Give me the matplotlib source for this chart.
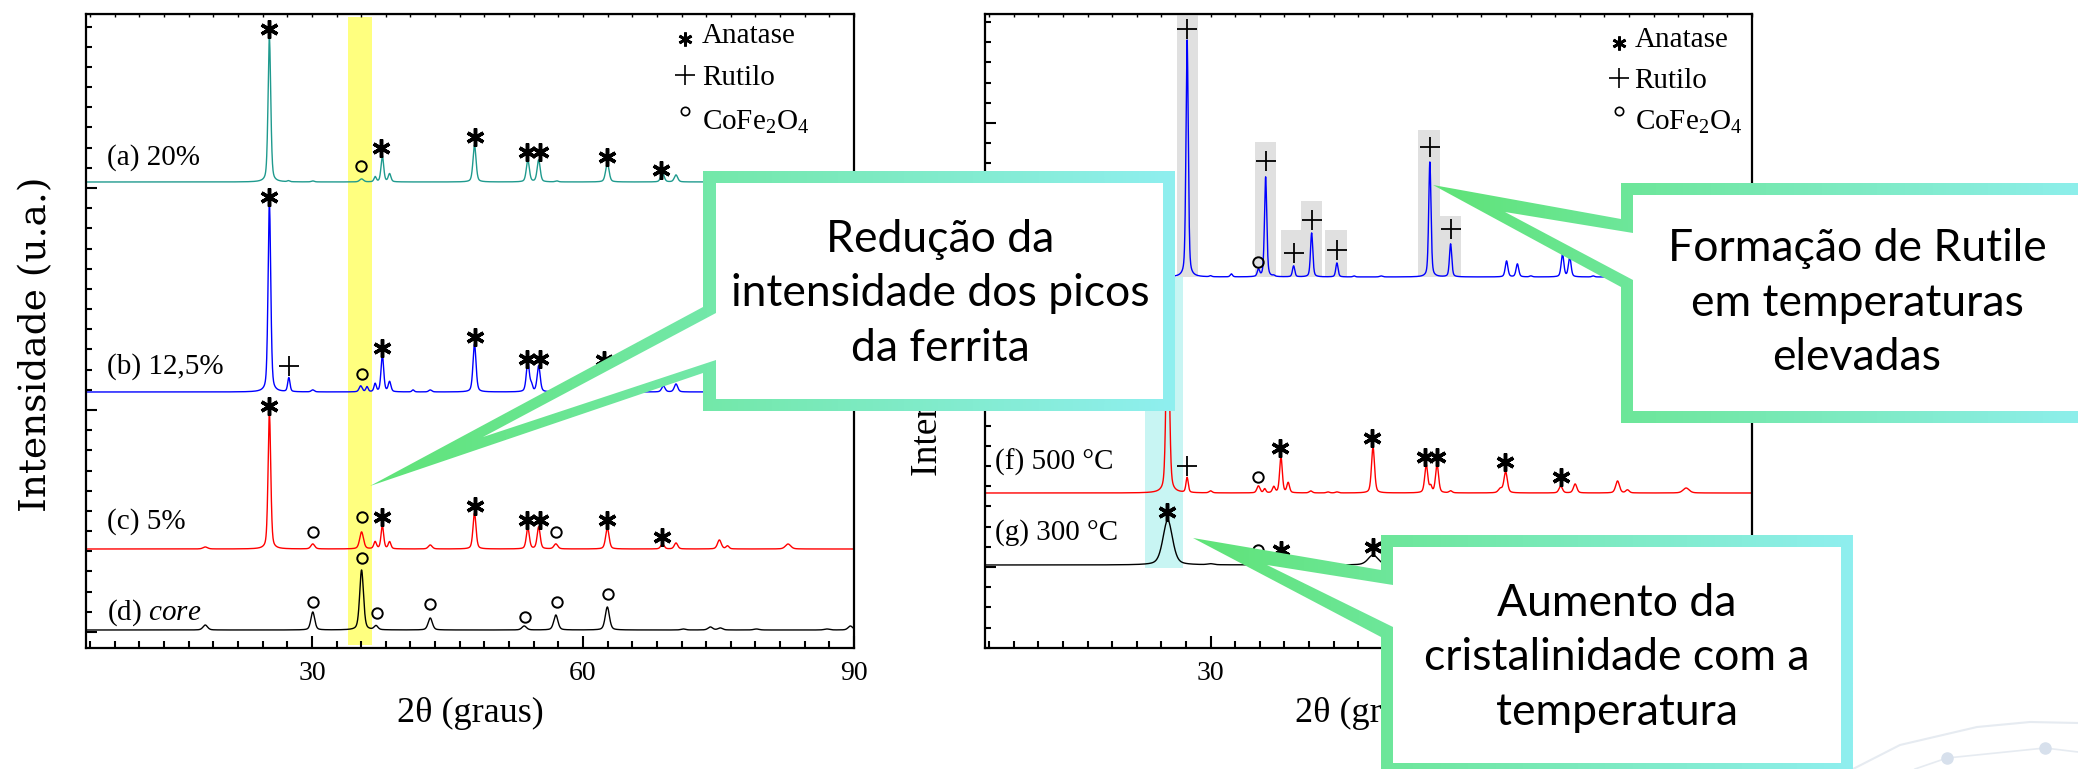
import numpy as np
import matplotlib.pyplot as plt
from matplotlib.patches import Polygon, Rectangle
from matplotlib.colors import LinearSegmentedColormap
from matplotlib.ticker import MultipleLocator, FixedLocator, NullFormatter

plt.rcParams['font.family'] = ['Liberation Serif', 'DejaVu Serif']
plt.rcParams['mathtext.fontset'] = 'custom'
plt.rcParams['mathtext.rm'] = 'Liberation Serif'
plt.rcParams['mathtext.it'] = 'Liberation Serif:italic'

# ---------------- data ----------------
# peaks read from the patterns: (2theta, height, fwhm); heights in a.u.
peaks_a = [(25.3, 144, 0.35), (27.4, 1, 0.3), (30.1, 1, 0.4), (35.5, 3, 0.5), (37.0, 5, 0.3),
           (37.8, 26, 0.35), (38.6, 8, 0.35), (48.0, 37, 0.4), (53.9, 22, 0.4), (55.1, 22, 0.4),
           (57.1, 1, 0.4), (62.7, 19, 0.45), (68.8, 9, 0.45), (70.3, 7, 0.45), (75.1, 8, 0.5),
           (76.0, 2, 0.4), (82.7, 4, 0.6)]
peaks_b = [(25.3, 189, 0.35), (27.45, 14, 0.3), (30.1, 2, 0.4), (35.4, 6, 0.4), (36.1, 5, 0.3),
           (37.0, 8, 0.3), (37.8, 37, 0.35), (38.6, 10, 0.35), (41.2, 2, 0.3), (43.1, 2, 0.4),
           (48.0, 48, 0.4), (53.9, 30, 0.4), (54.3, 6, 0.3), (55.1, 26, 0.4), (62.7, 22, 0.45),
           (68.9, 6, 0.45), (70.3, 8, 0.45), (75.1, 8, 0.5), (82.7, 4, 0.6)]
peaks_c = [(18.2, 2, 0.6), (25.3, 136, 0.35), (30.1, 5, 0.5), (35.5, 17, 0.5), (37.0, 7, 0.35),
           (37.8, 23, 0.35), (38.6, 7, 0.35), (43.1, 4, 0.5), (48.0, 36, 0.4), (53.9, 21, 0.4),
           (55.1, 22, 0.4), (57.0, 5, 0.5), (62.7, 21, 0.45), (68.8, 5, 0.45), (70.3, 6, 0.45),
           (75.1, 9, 0.5), (76.0, 3, 0.4), (82.7, 5, 0.7)]
peaks_d = [(18.2, 5, 0.6), (30.1, 18, 0.5), (35.5, 60, 0.5), (37.1, 4, 0.5), (43.1, 12, 0.55),
           (53.5, 4, 0.6), (57.0, 15, 0.55), (62.7, 23, 0.55), (71.1, 1, 0.6), (74.1, 3, 0.6),
           (75.2, 2, 0.6), (79.2, 1, 0.7), (87.0, 1, 0.7), (89.6, 4, 0.6)]
peaks_e = [(27.4, 237, 0.3), (30.0, 1, 0.3), (32.3, 3, 0.3), (35.3, 7, 0.3), (36.1, 100, 0.3),
           (37.0, 1, 0.3), (39.2, 11, 0.3), (41.2, 44, 0.3), (44.0, 14, 0.3), (45.9, 1, 0.3),
           (48.9, 1, 0.4), (54.3, 115, 0.3), (56.6, 33, 0.3), (62.8, 16, 0.35), (64.0, 13, 0.35),
           (65.5, 1, 0.35), (69.0, 23, 0.35), (69.8, 20, 0.35), (72.4, 1, 0.35), (76.5, 8, 0.35),
           (82.3, 5, 0.4), (84.2, 5, 0.4), (89.5, 4, 0.4)]
peaks_f = [(25.25, 210, 0.4), (27.4, 15, 0.3), (30.0, 2, 0.4), (35.3, 7, 0.4), (36.0, 4, 0.3),
           (37.0, 6, 0.35), (37.8, 36, 0.35), (38.6, 10, 0.35), (41.1, 2, 0.4), (43.0, 1, 0.4),
           (44.0, 1, 0.4), (48.0, 46, 0.4), (53.9, 28, 0.4), (54.4, 6, 0.3), (55.1, 28, 0.4),
           (56.6, 2, 0.4), (62.1, 4, 0.5), (62.7, 21, 0.45), (68.8, 7, 0.45), (70.4, 9, 0.45),
           (75.1, 12, 0.5), (76.2, 3, 0.45), (82.7, 5, 0.8)]
peaks_g = [(25.25, 45, 1.25), (30.0, 1, 0.8), (37.9, 8, 1.2), (48.0, 10, 1.3), (54.5, 8, 1.5),
           (62.8, 7, 1.5)]

# vertical offsets of each pattern (a.u.)
offsets_left = [466, 256, 99, 18]
offsets_right = [371, 155, 83]
labels_left = ['(a) 20%', '(b) 12,5%', '(c) 5%', r'(d) $\mathit{core}$']
labels_right = ['(e) 700 °C', '(f) 500 °C', '(g) 300 °C']
label_y_left = [490, 281, 126, 35]
label_y_right = [None, 186, 115]
colors_left = ['#1f9a8e', '#0000ff', '#ff0000', '#000000']
colors_right = ['#0000ff', '#ff0000', '#000000']

# phase markers (2theta, intensity)
anatase_left = [(25.3, 619), (37.7, 500), (48.0, 511), (53.8, 496), (55.2, 496), (62.7, 491), (68.6, 478),
                (25.3, 451), (37.8, 300), (48.0, 311), (53.8, 289), (55.2, 289), (62.3, 288),
                (25.3, 242), (37.8, 131), (48.0, 142), (53.8, 128), (55.2, 128), (62.7, 128), (68.8, 111)]
rutile_left = [(27.45, 282)]
ferrite_left = [(35.4, 482), (35.5, 274), (30.1, 116), (35.6, 131), (57.0, 116),
                (30.1, 46), (35.5, 90), (37.2, 35), (43.1, 44), (53.6, 31), (57.1, 46), (62.8, 54)]
anatase_right = [(37.7, 200), (47.9, 210), (53.8, 191), (55.1, 191), (62.6, 186), (68.8, 171),
                 (25.2, 136), (37.8, 98), (48.0, 101)]
rutile_right = [(27.4, 619), (36.1, 487), (39.2, 395), (41.2, 428), (44.0, 398), (54.3, 501), (56.6, 419),
                (27.4, 182)]
ferrite_right = [(35.3, 386), (35.3, 171), (35.3, 98)]

# grey boxes on the rutile peaks of (e): centre, top
rutile_box_x = [27.4, 36.1, 39.0, 41.15, 43.9, 54.2, 56.6]
rutile_box_top = [634, 506, 418, 447, 418, 518, 432]
ferrite_band = (34.05, 36.6)
anatase_band = (22.75, 26.95)

callout_texts = ['Redução da\nintensidade dos picos\nda ferrita',
                 'Formação de Rutile\nem temperaturas\nelevadas',
                 'Aumento da\ncristalinidade com a\ntemperatura']

# ---------------- figure ----------------
W, H = 2078, 769
fig = plt.figure(figsize=(W / 100, H / 100), dpi=100)
twotheta = np.arange(5, 90.001, 0.02)


def pattern(peaks):
    y = np.zeros_like(twotheta)
    for c, h, w in peaks:
        u = (twotheta - c) / w
        y += h * (0.6 * np.exp(-4 * np.log(2) * u ** 2) + 0.4 / (1 + 4 * u ** 2))
    return y


def px_axes(x0, x1, y0=14, y1=648):
    return fig.add_axes([x0 / W, 1 - y1 / H, (x1 - x0) / W, (y1 - y0) / H])


def style_axes(ax, majors):
    ax.set_xlim(5, 90)
    ax.set_ylim(0, 634)
    ax.xaxis.set_major_locator(MultipleLocator(30))
    ax.xaxis.set_minor_locator(MultipleLocator(30 / 11))
    ax.yaxis.set_major_locator(FixedLocator(majors))
    ax.yaxis.set_minor_locator(FixedLocator(np.arange(majors[0] % (222 / 11), 634, 222 / 11)))
    ax.yaxis.set_major_formatter(NullFormatter())
    ax.tick_params(which='both', direction='in', width=1.5, right=False, top=False)
    ax.tick_params(axis='x', which='major', length=9, labelsize=20, pad=9)
    ax.tick_params(axis='x', which='minor', length=5)
    ax.tick_params(axis='y', which='major', length=8)
    ax.tick_params(axis='y', which='minor', length=4)
    for s in ax.spines.values():
        s.set_linewidth(1.6)
    top = ax.secondary_xaxis('top')
    top.xaxis.set_major_locator(MultipleLocator(30))
    top.xaxis.set_minor_locator(MultipleLocator(30 / 11))
    top.tick_params(which='both', direction='in', length=2.5, width=1, labeltop=False)
    ax.set_xlabel('2θ (graus)', fontsize=26, labelpad=8)


def draw_markers(ax, an, ru, fe):
    if an:
        ax.plot(*zip(*an), ls='none', marker=(6, 2, 0), ms=13, mew=2.5, color='k', zorder=5)
    if ru:
        ax.plot(*zip(*ru), ls='none', marker='+', ms=14, mew=1.3, color='k', zorder=5)
    if fe:
        ax.plot(*zip(*fe), ls='none', marker='o', ms=7.5, mew=1.4, mfc='none', color='k', zorder=5)


def draw_legend(ax, xm, xt, ys):
    t = ax.transAxes
    ax.plot([xm], [ys[0] + 0.006], transform=t, marker=(6, 2, 0), ms=10, mew=2.0, color='k')
    ax.plot([xm], [ys[1] + 0.016], transform=t, marker='+', ms=15, mew=1.2, color='k')
    ax.plot([xm], [ys[2] + 0.03], transform=t, marker='o', ms=6, mew=1.2, mfc='none', color='k')
    for y, s in zip(ys, ['Anatase', 'Rutilo', r'CoFe$_2$O$_4$']):
        ax.text(xt, y, s, transform=t, fontsize=21, va='baseline', ha='left')


# left panel
axl = px_axes(86, 854)
style_axes(axl, [16, 238, 460])
axl.axvspan(*ferrite_band, ymin=3 / 634, ymax=631 / 634, color='#ffff7f', lw=0, zorder=0)
for pk, off, c in zip([peaks_a, peaks_b, peaks_c, peaks_d], offsets_left, colors_left):
    axl.plot(twotheta, pattern(pk) + off, color=c, lw=1.0, zorder=2)
for lab, y in zip(labels_left, label_y_left):
    axl.text(7.3, y, lab, fontsize=21, va='center', ha='left')
draw_markers(axl, anatase_left, rutile_left, ferrite_left)
draw_legend(axl, 0.780, 0.802, [0.954, 0.888, 0.817])

# right panel
axr = px_axes(985, 1752)
style_axes(axr, [81, 303, 525])
axr.add_patch(Rectangle((anatase_band[0], 80), anatase_band[1] - anatase_band[0], 291,
                        color='#c8f5f3', lw=0, zorder=0))
for cx, top in zip(rutile_box_x, rutile_box_top):
    axr.add_patch(Rectangle((cx - 1.17, offsets_right[0]), 2.34, top - offsets_right[0],
                            color='#e0e0e0', lw=0, zorder=0.5))
for pk, off, c in zip([peaks_e, peaks_f, peaks_g], offsets_right, colors_right):
    axr.plot(twotheta, pattern(pk) + off, color=c, lw=1.0, zorder=2)
for lab, y in zip(labels_right, label_y_right):
    if y is not None:
        axr.text(6.1, y, lab, fontsize=21, va='center', ha='left')
draw_markers(axr, anatase_right, rutile_right, ferrite_right)
draw_legend(axr, 0.827, 0.847, [0.948, 0.883, 0.817])

fig.text(36 / W, 1 - 344 / H, 'Intensidade (u.a.)', rotation=90, ha='center', va='center',
         fontsize=27, family='DejaVu Serif')
fig.text(927 / W, 1 - 476 / H, 'Intensidade (u.a.)', rotation=90, ha='center', va='bottom',
         fontsize=27)

# ---------------- callouts (figure pixel layout) ----------------
ov = fig.add_axes([0, 0, 1, 1], zorder=10)
ov.axis('off')
cmap = LinearSegmentedColormap.from_list('gc', ['#5fe377', '#8fefef'])

callouts = [
    dict(outer=[(703, 171), (1175, 171), (1175, 411), (703, 411), (703, 373), (370, 486), (703, 307)],
         inner=[(716, 183), (1163, 183), (1163, 399), (716, 399), (716, 360), (483, 437), (716, 313)],
         text=(940, 294)),
    dict(outer=[(1621, 183), (2100, 183), (2100, 423), (1621, 423), (1621, 287), (1433, 185), (1621, 219)],
         inner=[(1633, 195), (2081, 195), (2081, 411), (1633, 411), (1633, 280), (1505, 212), (1633, 233)],
         text=(1857, 303)),
    dict(outer=[(1381, 535), (1853, 535), (1853, 790), (1381, 790), (1381, 637), (1193, 538), (1381, 570)],
         inner=[(1393, 547), (1841, 547), (1841, 763), (1393, 763), (1393, 627), (1267, 565), (1393, 585)],
         text=(1617, 658)),
]

# faint decoration, bottom right
ov.plot([1853, 1900, 1977, 2030, 2078], [769, 745, 727, 722, 723], color='#e6ebf1', lw=1.5, zorder=1)
ov.plot([1915, 1947, 2045, 2078], [769, 758, 748, 752], color='#e6ebf1', lw=1.2, zorder=1)
ov.plot([1947, 2045], [758, 748], ls='none', marker='o', ms=8, color='#d7e0ec', zorder=1)

for co, txt in zip(callouts, callout_texts):
    outer = Polygon(co['outer'], closed=True, fc='none', ec='none', zorder=3)
    ov.add_patch(outer)
    xs = [p[0] for p in co['outer']]
    ys = [p[1] for p in co['outer']]
    im = ov.imshow(np.linspace(0, 1, 256)[None, :], cmap=cmap, aspect='auto', interpolation='bilinear',
                   extent=(min(xs), max(xs), max(ys), min(ys)), zorder=3)
    im.set_clip_path(outer)
    ov.add_patch(Polygon(co['inner'], closed=True, fc='white', ec='none', zorder=4))
    ov.text(*co['text'], txt, ha='center', va='center', fontsize=32, family=['Lato', 'DejaVu Sans'],
            linespacing=1.42, zorder=5)

ov.set_xlim(0, W)
ov.set_ylim(H, 0)

fig.savefig('out.png', dpi=100)
